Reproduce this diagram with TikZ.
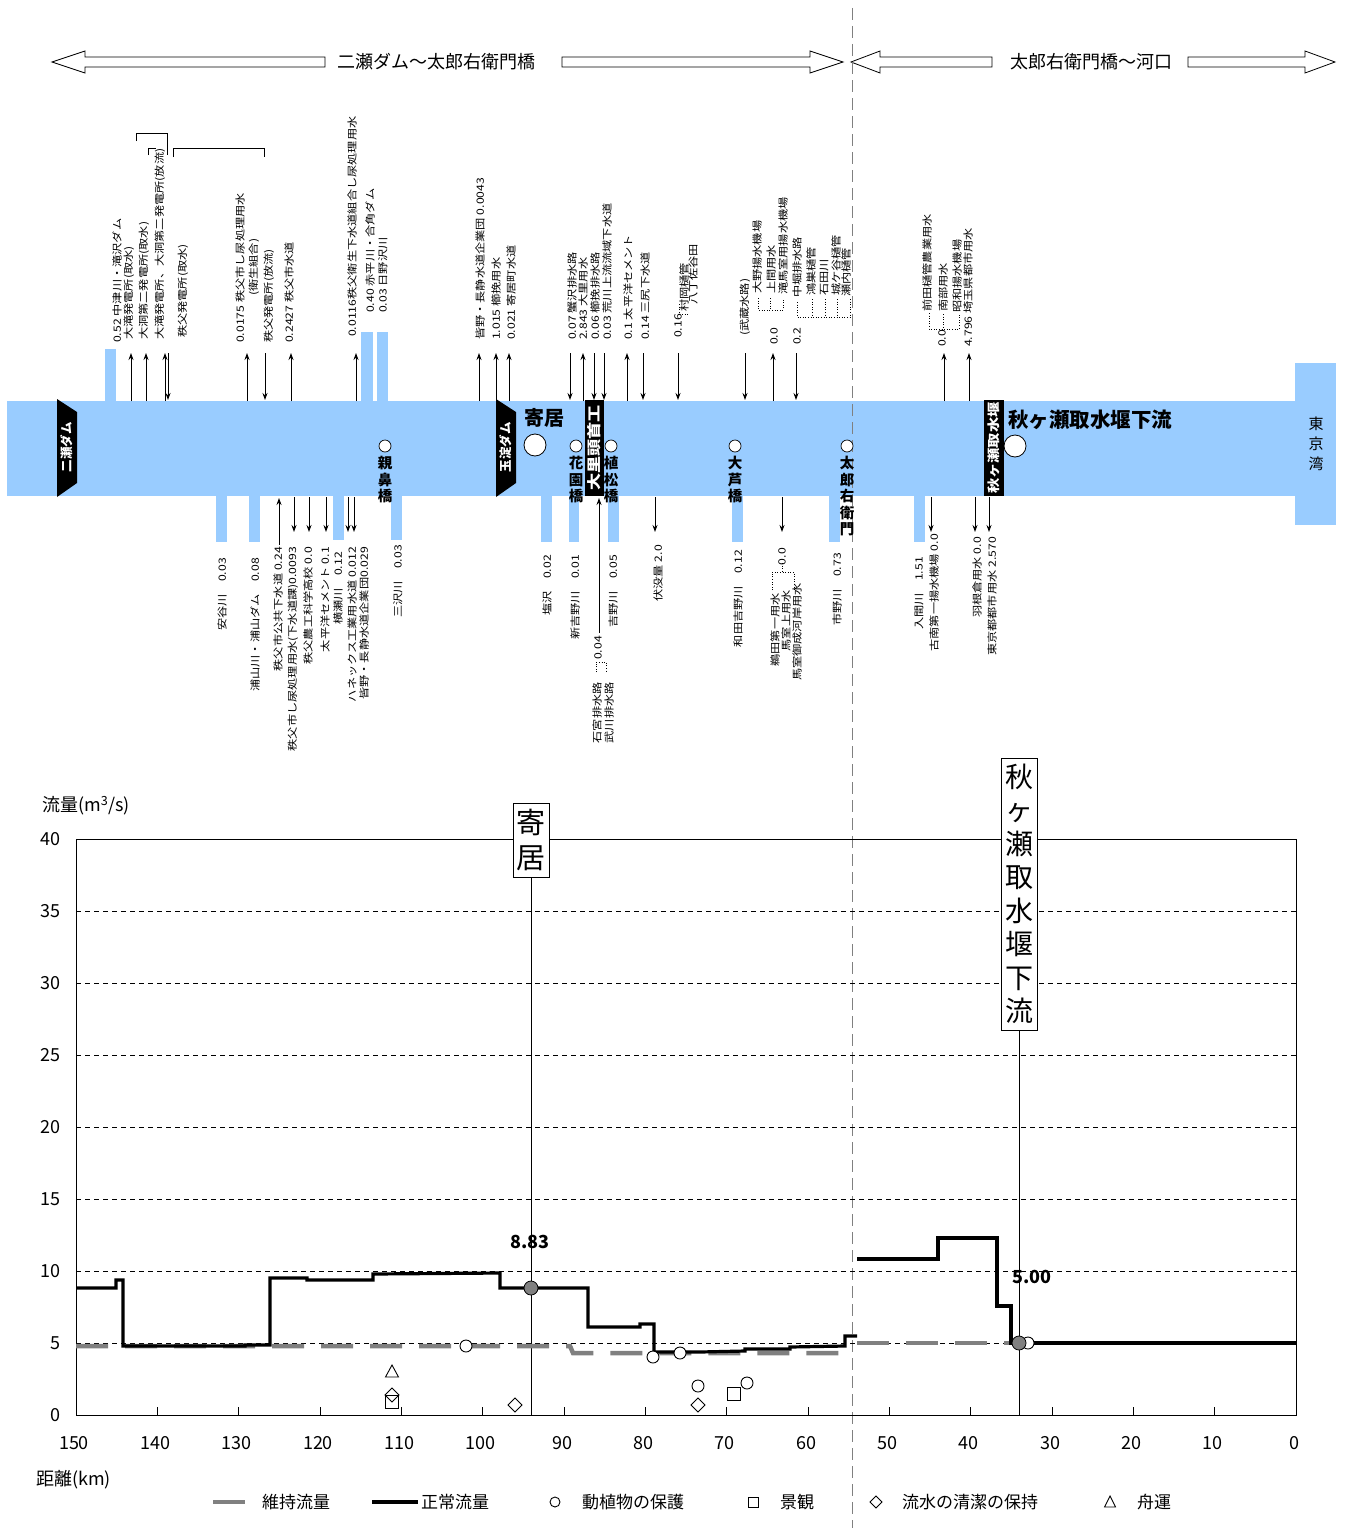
\documentclass[tikz,border=0pt]{standalone}
\usepackage{fontspec}
\setmainfont{Noto Sans CJK JP}
\newfontfamily\jpw[FakeStretch=1.22]{Noto Sans CJK JP}
\usetikzlibrary{arrows.meta}
\definecolor{riv}{HTML}{99CCFF}
\definecolor{gry}{HTML}{808080}
\newcommand\mkcirc[2]{\draw[line width=0.9pt, fill=white] (#1,#2) circle (6);}
\newcommand\mksq[2]{\draw[line width=0.9pt, shift={(#1,#2)}] (-6.5,-6.5) rectangle (6.5,6.5);}
\newcommand\mkdia[2]{\draw[line width=0.9pt, shift={(#1,#2)}] (0,-7) -- (7,0) -- (0,7) -- (-7,0) -- cycle;}
\newcommand\mktri[2]{\draw[line width=0.9pt, shift={(#1,#2)}] (0,-7) -- (6.5,5) -- (-6.5,5) -- cycle;}
\begin{document}
\begin{tikzpicture}[x=1pt,y=-1pt,
  lbl/.style={font=\jpw\fontsize{10}{11}\selectfont, inner sep=0pt, rotate=90},
  tl/.style={lbl, anchor=west},
  bl/.style={lbl, anchor=east},
  arr/.style={-{Stealth[length=7pt,width=5pt]}, line width=0.9pt},
  dots/.style={dotted, line width=0.6pt},
  damtxt/.style={text=white, font=\bfseries\fontsize{12.5}{12.5}\selectfont, rotate=90, inner sep=0pt},
  weirtxt/.style={text=white, font=\jpw\bfseries\fontsize{13}{13}\selectfont, rotate=90, inner sep=0pt},
  bridge/.style={circle, draw=black, fill=white, minimum size=12pt, inner sep=0pt, line width=0.7pt},
  bigpt/.style={circle, draw=black, fill=white, minimum size=22pt, inner sep=0pt, line width=0.8pt},
  bname/.style={font=\bfseries\fontsize{14.5}{16.5}\selectfont, align=center, inner sep=0pt, anchor=north},
  hollow/.style={draw=black, fill=white, line width=0.8pt},
  tick/.style={font=\fontsize{18}{18}\selectfont, inner sep=0pt},
  leg/.style={font=\fontsize{17}{17}\selectfont, inner sep=0pt, anchor=west},
  normal/.style={line width=3.2pt, line join=miter},
  maint/.style={gry, line width=4.5pt, dash pattern=on 32pt off 17pt},
  grid/.style={line width=0.5pt, dash pattern=on 5pt off 4pt},
  vbox/.style={draw=black, fill=white, line width=0.8pt, align=center, inner sep=0pt}
]
\useasboundingbox (0,0) rectangle (1349,1528);

% ---------- top section arrows ----------
\draw[hollow] (52,62) -- (85,51) -- (85,57) -- (325,57) -- (325,67) -- (85,67) -- (85,73) -- cycle;
\draw[hollow] (562,57) -- (810,57) -- (810,51) -- (843,62) -- (810,73) -- (810,67) -- (562,67) -- cycle;
\node[font=\fontsize{18}{18}\selectfont] (sec1) at (436,62) {二瀬ダム～太郎右衛門橋};
\draw[hollow] (851,62) -- (880,51) -- (880,57) -- (992,57) -- (992,67) -- (880,67) -- (880,73) -- cycle;
\draw[hollow] (1188,57) -- (1305,57) -- (1305,51) -- (1335,62) -- (1305,73) -- (1305,67) -- (1188,67) -- cycle;
\node[font=\fontsize{18}{18}\selectfont] (sec2) at (1091,62) {太郎右衛門橋～河口};

% ---------- river ----------
\fill[riv] (7,401) rectangle (1296,496);
\fill[riv] (1295,363) rectangle (1336,525);
\node[font=\fontsize{15}{20}\selectfont, align=center, inner sep=0pt] (bay) at (1316,444) {東\\京\\湾};

% tributaries top
\fill[riv] (105,349) rectangle (116,401);
\fill[riv] (361,332) rectangle (373,401);
\fill[riv] (377,332) rectangle (388,401);
% tributaries bottom
\foreach \a/\b in {216/227,249/260,541/552,569/579,608/619,732/743,829/840,914/925}
  \fill[riv] (\a,496) rectangle (\b,542);
\foreach \a/\b in {333/344,391/402}
  \fill[riv] (\a,496) rectangle (\b,540);

% dashed section divider
\draw[gry, line width=0.9pt, dash pattern=on 12pt off 6pt] (852,8) -- (852,1528);

% dams and weirs
\fill (57,399) -- (77,412) -- (77,483) -- (57,497) -- cycle;
\node[damtxt] (dam1) at (67,447) {二瀬ダム};
\fill (496,399) -- (516,412) -- (516,483) -- (496,497) -- cycle;
\node[damtxt] (dam2) at (506,447) {玉淀ダム};
\fill (585,400) rectangle (604,496);
\node[weirtxt, font=\jpw\bfseries\fontsize{14}{14}\selectfont] (weir1) at (594.5,448) {大里頭首工};
\fill (984,400) rectangle (1004,496);
\node[weirtxt, font=\jpw\bfseries\fontsize{12.5}{12.5}\selectfont] (weir2) at (994,448) {秋ヶ瀬取水堰};

% bridges
\foreach \n/\x/\t in {b1/385/親\\鼻\\橋, b2/576/花\\園\\橋, b3/611/植\\松\\橋, b4/735/大\\芦\\橋, b5/847/太\\郎\\右\\衛\\門}{
  \node[bridge] (\n) at (\x,446) {};
  \node[bname] (\n t) at (\x,456) {\t};
}
\node[bigpt] (yorii) at (535,445) {};
\node[font=\bfseries\fontsize{20}{20}\selectfont, inner sep=0pt] (yoriit) at (544,418) {寄居};
\node[bigpt] (akigase) at (1015,446) {};
\node[font=\bfseries\fontsize{20.5}{20.5}\selectfont, inner sep=0pt, anchor=west] (akigaset) at (1008,420) {秋ヶ瀬取水堰下流};

% ---------- top labels ----------
\node[tl] (a1) at (117,343) {0.52 中津川・滝沢ダム};
\node[tl] (a2) at (129,340) {大滝発電所(取水)};
\node[tl] (a3) at (144,340) {大洞第二発電所(取水)};
\node[tl] (a4) at (160,340) {大滝発電所、大洞第二発電所(放流)};
\node[tl] (a5) at (183,338) {秩父発電所(取水)};
\node[tl] (a6) at (240,343) {0.0175 秩父市し尿処理用水};
\node[tl] (a7) at (254,296) {(衛生組合)};
\node[tl] (a8) at (269,343) {秩父発電所(放流)};
\node[tl] (a9) at (289,343) {0.2427 秩父市水道};
\draw[line width=0.6pt] (136,141) -- (136,133) -- (167,133) -- (167,155);
\draw[line width=0.6pt] (148,155) -- (148,148) -- (156,148);
\draw[line width=0.6pt] (173,157) -- (173,148) -- (264,148) -- (264,157);

\node[tl] (a10) at (352,337) {0.0116秩父衛生下水道組合し尿処理用水};
\node[tl] (a11) at (370,313) {0.40 赤平川・合角ダム};
\node[tl] (a12) at (383,313) {0.03 日野沢川};
\node[tl] (a13) at (480,340) {皆野・長静水道企業団 0.0043};
\node[tl] (a14) at (496,340) {1.015 櫛挽用水};
\node[tl] (a15) at (511,340) {0.021 寄居町水道};

\node[tl] (a16) at (572,340) {0.07 蟹沢排水路};
\node[tl] (a17) at (583,340) {2.843 大里用水};
\node[tl] (a18) at (595,340) {0.06 櫛挽排水路};
\node[tl] (a19) at (607,340) {0.03 荒川上流流域下水道};
\node[tl] (a20) at (628,340) {0.1 太平洋セメント};
\node[tl] (a21) at (645,340) {0.14 三尻下水道};
\node[tl] (a22) at (678,338) {0.16};
\node[tl] (a23) at (684,312) {村岡樋管};
\node[tl] (a24) at (693,305) {八丁佐谷田};
\draw[dots] (679,304) -- (679,314) -- (689,314);

\node[tl] (a25) at (745,336) {(武蔵水路)};
\node[tl] (a26) at (757,294) {大野揚水機場};
\node[tl] (a27) at (771,294) {上間用水};
\node[tl] (a28) at (783,295) {滝馬室用揚水機場};
\node[tl] (a29) at (797,298) {中堀排水路};
\node[tl] (a30) at (811,296) {鴻巣樋管};
\node[tl] (a31) at (824,296) {石田川};
\node[tl] (a32) at (836,296) {城ケ谷樋管};
\node[tl] (a33) at (846,297) {瀬内樋管};
\node[tl] (a34) at (774,345) {0.0};
\node[tl] (a35) at (797,345) {0.2};
\draw[dots] (758,298) -- (758,310) -- (783,310) -- (783,298);
\draw[dots] (770,298) -- (770,310);
\draw[dots] (797,302) -- (797,317) -- (851,317);
\foreach \x in {812,825,837,850} \draw[dots] (\x,299) -- (\x,317);

\node[tl] (a36) at (927,312) {前田樋管農業用水};
\node[tl] (a37) at (943,312) {南部用水};
\node[tl] (a38) at (957,313) {昭和揚水機場};
\node[tl] (a39) at (942,347) {0.0};
\node[tl] (a40) at (968,347) {4.796 埼玉県都市用水};
\draw[dots] (929,313) -- (929,329) -- (959,329) -- (959,314);
\draw[dots] (943,314) -- (943,329);

% top arrows
\foreach \x in {131,146,165,247,291,356,479,496,509,583,627,773,944,969}
  \draw[arr] (\x,401) -- (\x,353);
\foreach \x in {168,265,570,594,604,643,678,745,796}
  \draw[arr] (\x,353) -- (\x,400);

% ---------- bottom labels ----------
\node[bl] (c1) at (222,558) {安谷川　0.03};
\node[bl] (c2) at (255,558) {浦山川・浦山ダム　0.08};
\node[bl] (c3) at (278,547) {秩父市公共下水道 0.24};
\node[bl] (c4) at (293,547) {秩父市し尿処理用水(下水道課)0.0093};
\node[bl] (c5) at (308,547) {秩父農工科学高校 0.0};
\node[bl] (c6) at (325,547) {太平洋セメント 0.1};
\node[bl] (c7) at (338,552) {横瀬川　0.12};
\node[bl] (c8) at (352,547) {ハネックス工業用水道 0.012};
\node[bl] (c9) at (364,547) {皆野・長静水道企業団0.029};
\node[bl] (c10) at (398,545) {三沢川　0.03};
\node[bl] (c11) at (547,555) {塩沢　0.02};
\node[bl] (c12) at (575,555) {新吉野川　0.01};
\node[bl] (c13) at (613,555) {吉野川　0.05};
\node[bl] (c14) at (658,545) {伏没量 2.0};
\node[bl] (c15) at (598,636) {0.04};
\node[bl] (c16) at (597,682) {石宮排水路};
\node[bl] (c17) at (609,682) {武川排水路};
\draw[dots] (596,672) -- (596,662) -- (606,662) -- (606,672);
\node[bl] (c18) at (738,550) {和田吉野川　0.12};
\node[bl] (c19) at (782,548) {0.0};
\node[bl] (c20) at (775,593) {鵜田第一用水};
\node[bl] (c21) at (786,590) {馬室上用水};
\node[bl] (c22) at (797,583) {馬室御成河岸用水};
\draw[dots] (782,563) -- (782,572);
\draw[dots] (772,590) -- (772,572) -- (794,572) -- (794,590);
\node[bl] (c23) at (837,553) {市野川　0.73};
\node[bl] (c24) at (919,557) {入間川　1.51};
\node[bl] (c25) at (934,534) {古南第一揚水機場 0.0};
\node[bl] (c26) at (977,537) {羽根倉用水 0.0};
\node[bl] (c27) at (992,537) {東京都都市用水 2.570};

% bottom arrows
\draw[arr] (279,545) -- (279,498);
\draw[arr] (599,633) -- (599,498);
\foreach \x in {294,309,326,348,354,655,782,931,975,989}
  \draw[arr] (\x,497) -- (\x,532);

% ---------- chart ----------
\foreach \v in {5,10,...,35}
  \draw[grid] (76,{1415-\v*14.4}) -- (1296,{1415-\v*14.4});
\draw[line width=0.8pt] (76,839) rectangle (1296,1415);
\foreach \k in {0,10,...,150}{
  \draw[line width=0.6pt] ({76+(150-\k)*8.1333},1415) -- ++(0,-8);
  \node[tick] at ({74+(150-\k)*8.1333},1443) {\k};
}
\foreach \v in {0,5,...,40}
  \node[tick, anchor=east] at (61,{1415-\v*14.4}) {\v};
\node[font=\fontsize{18}{18}\selectfont, anchor=west, inner sep=0pt] (ylab) at (42,806) {流量(m\textsuperscript{3}/s)};
\node[font=\fontsize{18}{18}\selectfont, anchor=west, inner sep=0pt] (xlab) at (36,1480) {距離(km)};

% reference points
\node[vbox, font=\fontsize{29}{35}\selectfont, minimum width=36pt, minimum height=74pt] (yb) at (531,840) {寄\\居};
\draw[line width=0.8pt] (yb.south) -- (531,1415);
\node[vbox, font=\fontsize{28}{33.5}\selectfont, minimum width=36pt, minimum height=272pt] (ab) at (1019,894) {秋\\ヶ\\瀬\\取\\水\\堰\\下\\流};
\draw[line width=0.8pt] (ab.south) -- (1019,1415);

% maintenance flow
\draw[maint] (76,1346) -- (570,1346) -- (573,1353) -- (843,1353);
\draw[maint] (857,1343) -- (1296,1343);

% normal flow
\draw[normal] (76,1288) -- (116,1288) -- (116,1280) -- (123,1280) -- (123,1346) -- (245,1346) -- (245,1345) -- (270,1345)
  -- (270,1278) -- (307,1278) -- (307,1280) -- (373,1280) -- (373,1274) -- (500,1273) -- (500,1288) -- (588,1288)
  -- (588,1327) -- (640,1327) -- (640,1324) -- (654,1324) -- (654,1352) -- (700,1352) -- (745,1351) -- (745,1349)
  -- (790,1349) -- (790,1347) -- (845,1346) -- (845,1336) -- (857,1336);
\draw[normal] (857,1259) -- (938,1259) -- (938,1238) -- (997,1238) -- (997,1306) -- (1011,1306) -- (1011,1343) -- (1296,1343);

% markers
\mkcirc{466}{1346}
\mkcirc{653}{1357}
\mkcirc{680}{1353}
\mkcirc{698}{1386}
\mkcirc{747}{1383}
\mkcirc{1028}{1343}
\mksq{392}{1402}
\mksq{734}{1394}
\mkdia{392}{1395}
\mkdia{515}{1405}
\mkdia{698}{1405}
\mktri{392}{1372}

\node[circle, draw=black, fill=gry, minimum size=14pt, inner sep=0pt, line width=0.8pt] (p1) at (531,1288) {};
\node[font=\bfseries\fontsize{18}{18}\selectfont] (p1t) at (530,1242) {8.83};
\node[circle, draw=black, fill=gry, minimum size=14pt, inner sep=0pt, line width=0.8pt] (p2) at (1019,1343) {};
\node[font=\bfseries\fontsize{18}{18}\selectfont] (p2t) at (1032,1277) {5.00};

% ---------- legend ----------
\draw[gry, line width=4.5pt] (213,1502) -- (245,1502);
\node[leg] (l1) at (262,1502) {維持流量};
\draw[line width=3.2pt] (372,1502) -- (418,1502);
\node[leg] (l2) at (421,1502) {正常流量};
\draw[line width=0.9pt] (555,1502) circle (5);
\node[leg] (l3) at (582,1502) {動植物の保護};
\draw[line width=0.9pt] (748,1497) rectangle (758,1507);
\node[leg] (l4) at (780,1502) {景観};
\draw[line width=0.9pt] (876,1496) -- (882,1502) -- (876,1508) -- (870,1502) -- cycle;
\node[leg] (l5) at (902,1502) {流水の清潔の保持};
\draw[line width=0.9pt] (1110,1496) -- (1115.5,1507) -- (1104.5,1507) -- cycle;
\node[leg] (l6) at (1137,1502) {舟運};
\end{tikzpicture}
\end{document}
